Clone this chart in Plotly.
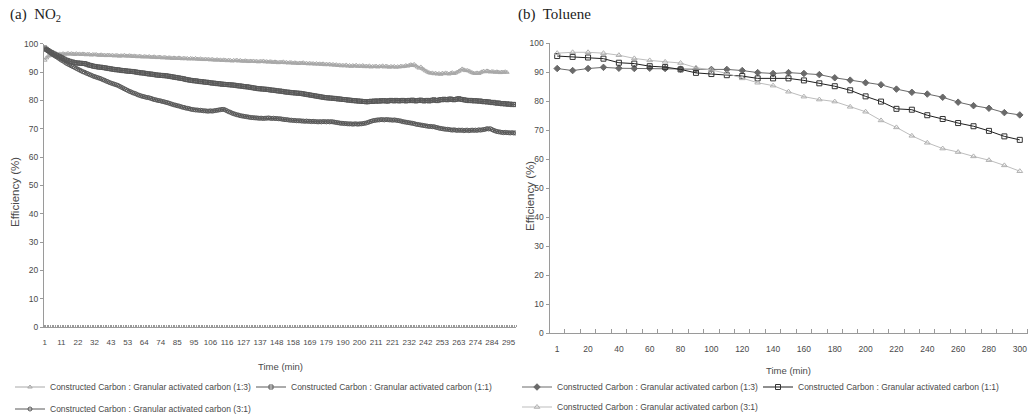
import plotly.graph_objects as go

# ---------------- data ----------------
series_names = [
    "Constructed Carbon : Granular activated carbon (1:3)",
    "Constructed Carbon : Granular activated carbon (1:1)",
    "Constructed Carbon : Granular activated carbon (3:1)",
]

# (a) NO2 : time-axis tick labels (every 10th sample)
no2_tick_labels = [1, 11, 22, 32, 43, 53, 64, 74, 85, 95, 106, 116, 127, 137, 148,
                   158, 169, 179, 190, 200, 211, 221, 232, 242, 253, 263, 274, 284, 295]
no2_label_every = 10

no2_1_3 = [
    94.2, 95.0, 95.6, 95.9, 96.1, 95.8, 96.2, 96.3, 96.1, 96.4,
    96.2, 96.5, 96.3, 96.4, 96.6, 96.3, 96.5, 96.4, 96.2, 96.5,
    96.3, 96.4, 96.2, 96.4, 96.3, 96.1, 96.3, 96.2, 96.0, 96.2,
    96.1, 96.2, 96.0, 95.9, 96.1, 95.9, 96.0, 95.8, 96.0, 95.9,
    95.8, 95.9, 95.7, 95.9, 95.8, 95.6, 95.8, 95.7, 95.9, 95.7,
    95.6, 95.8, 95.7, 95.5, 95.7, 95.6, 95.4, 95.6, 95.5, 95.3,
    95.5, 95.4, 95.3, 95.5, 95.3, 95.2, 95.4, 95.2, 95.1, 95.3,
    95.2, 95.0, 95.2, 95.1, 94.9, 95.1, 95.0, 94.8, 95.0, 94.9,
    94.8, 95.0, 94.8, 94.7, 94.9, 94.7, 94.8, 94.6, 94.8, 94.7,
    94.6, 94.8, 94.6, 94.5, 94.7, 94.5, 94.4, 94.6, 94.4, 94.5,
    94.3, 94.5, 94.3, 94.2, 94.4, 94.2, 94.3, 94.1, 94.3, 94.2,
    94.0, 94.2, 94.1, 93.9, 94.1, 94.0, 94.2, 93.9, 94.1, 93.9,
    93.8, 94.0, 93.9, 93.7, 93.9, 93.8, 93.9, 93.7, 93.8, 93.6,
    93.8, 93.7, 93.9, 93.6, 93.7, 93.5, 93.7, 93.6, 93.4, 93.6,
    93.5, 93.3, 93.5, 93.4, 93.6, 93.3, 93.4, 93.2, 93.4, 93.3,
    93.1, 93.3, 93.2, 93.0, 93.2, 93.1, 93.3, 93.0, 93.1, 92.9,
    93.1, 92.9, 93.0, 92.8, 93.0, 92.8, 92.9, 92.7, 92.9, 92.6,
    92.8, 92.6, 92.8, 92.5, 92.7, 92.4, 92.6, 92.3, 92.5, 92.2,
    92.4, 92.2, 92.5, 92.1, 92.3, 92.0, 92.3, 92.1, 92.4, 92.0,
    92.2, 92.0, 92.3, 91.9, 92.1, 91.9, 92.2, 91.8, 92.0, 91.9,
    92.1, 91.8, 92.0, 91.9, 92.2, 91.8, 92.1, 91.9, 91.7, 92.0,
    91.8, 92.0, 91.7, 91.9, 91.8, 92.1, 91.9, 92.0, 92.3, 92.1,
    92.4, 92.6, 92.3, 92.7, 92.2, 91.8, 91.4, 91.8, 91.2, 90.8,
    90.4, 90.1, 89.8, 89.6, 89.7, 89.4, 89.6, 89.3, 89.5, 89.2,
    89.6, 89.4, 89.7, 89.5, 89.3, 89.6, 89.8, 89.5, 89.7, 90.0,
    90.3, 90.7, 91.1, 90.8, 90.5, 90.6, 90.4, 90.1, 89.8, 89.6,
    89.5, 89.7, 89.5, 89.8, 90.1, 90.3, 90.1, 90.4, 90.2, 90.0,
    90.2, 90.1, 89.9, 90.1, 90.0, 89.8, 90.0, 89.9, 90.1, 89.9,
]

no2_1_1 = [
    98.5, 98.0, 97.6, 97.2, 96.9, 96.6, 96.3, 96.0, 95.7, 95.4,
    95.1, 94.8, 94.5, 94.2, 94.0, 93.8, 93.6, 93.5, 93.3, 93.2,
    93.2, 93.1, 93.1, 93.0, 93.0, 92.8, 92.6, 92.4, 92.3, 92.1,
    92.0, 91.9, 91.8, 91.7, 91.7, 91.6, 91.5, 91.4, 91.3, 91.2,
    91.1, 91.0, 90.9, 90.8, 90.8, 90.7, 90.6, 90.5, 90.5, 90.4,
    90.3, 90.3, 90.2, 90.2, 90.1, 90.0, 89.9, 89.8, 89.7, 89.7,
    89.6, 89.5, 89.4, 89.3, 89.3, 89.2, 89.1, 89.0, 88.9, 88.9,
    88.8, 88.8, 88.7, 88.7, 88.6, 88.5, 88.4, 88.3, 88.2, 88.1,
    88.0, 87.9, 87.8, 87.7, 87.6, 87.4, 87.3, 87.2, 87.1, 87.0,
    86.9, 86.9, 86.8, 86.7, 86.6, 86.6, 86.5, 86.4, 86.4, 86.3,
    86.2, 86.1, 86.1, 86.0, 85.9, 85.9, 85.8, 85.7, 85.7, 85.6,
    85.6, 85.5, 85.5, 85.4, 85.4, 85.3, 85.2, 85.1, 85.1, 85.0,
    84.9, 84.8, 84.8, 84.7, 84.6, 84.5, 84.4, 84.3, 84.2, 84.1,
    84.1, 84.0, 84.0, 83.9, 83.9, 83.8, 83.7, 83.6, 83.6, 83.5,
    83.4, 83.3, 83.3, 83.2, 83.1, 83.0, 82.9, 82.9, 82.8, 82.7,
    82.7, 82.6, 82.6, 82.5, 82.5, 82.4, 82.3, 82.2, 82.1, 82.0,
    81.9, 81.8, 81.7, 81.6, 81.5, 81.4, 81.3, 81.2, 81.1, 81.0,
    80.9, 80.9, 80.8, 80.8, 80.7, 80.7, 80.6, 80.5, 80.5, 80.4,
    80.3, 80.3, 80.2, 80.1, 80.1, 80.0, 79.9, 79.9, 79.8, 79.8,
    79.7, 79.7, 79.6, 79.6, 79.5, 79.5, 79.6, 79.7, 79.6, 79.8,
    79.7, 79.8, 79.7, 79.9, 79.8, 79.9, 79.8, 79.7, 79.9, 80.0,
    79.9, 79.8, 80.0, 79.9, 79.8, 79.9, 80.0, 79.9, 79.8, 79.9,
    80.0, 79.9, 80.1, 79.9, 79.8, 79.9, 80.0, 80.1, 79.9, 79.8,
    79.9, 80.0, 79.8, 79.9, 80.1, 80.2, 80.0, 79.9, 80.1, 80.3,
    80.2, 80.4, 80.3, 80.2, 80.4, 80.5, 80.3, 80.2, 80.3, 80.5,
    80.6, 80.4, 80.3, 80.2, 80.1, 80.0, 79.9, 80.0, 79.9, 79.8,
    79.9, 79.8, 79.7, 79.8, 79.6, 79.5, 79.6, 79.4, 79.5, 79.3,
    79.2, 79.3, 79.1, 79.0, 79.1, 78.9, 78.8, 78.9, 78.7, 78.8,
    78.6, 78.7, 78.5, 78.6, 78.5,
]

no2_3_1 = [
    98.2, 97.8, 97.4, 97.0, 96.5, 96.1, 95.7, 95.4, 95.0, 94.6,
    94.2, 93.9, 93.5, 93.1, 92.8, 92.5, 92.2, 91.9, 91.6, 91.3,
    91.0, 90.7, 90.4, 90.1, 89.9, 89.6, 89.4, 89.1, 88.9, 88.6,
    88.4, 88.2, 88.0, 87.8, 87.6, 87.3, 87.1, 86.8, 86.6, 86.3,
    86.1, 85.9, 85.7, 85.5, 85.3, 85.0, 84.7, 84.4, 84.1, 83.8,
    83.5, 83.2, 83.0, 82.7, 82.5, 82.3, 82.0, 81.8, 81.6, 81.4,
    81.3, 81.1, 81.0, 80.9, 80.7, 80.5, 80.3, 80.2, 80.0, 79.9,
    79.8, 79.6, 79.5, 79.3, 79.2, 79.0, 78.8, 78.6, 78.4, 78.3,
    78.1, 78.0, 77.8, 77.6, 77.5, 77.3, 77.2, 77.1, 76.9, 76.8,
    76.7, 76.6, 76.6, 76.5, 76.5, 76.4, 76.3, 76.3, 76.2, 76.2,
    76.3, 76.2, 76.3, 76.4, 76.5, 76.6, 76.7, 76.8, 76.8, 76.6,
    76.3, 76.0, 75.8, 75.5, 75.3, 75.1, 74.9, 74.8, 74.6, 74.5,
    74.4, 74.3, 74.2, 74.1, 74.0, 73.9, 73.9, 73.8, 73.8, 73.7,
    73.7, 73.7, 73.6, 73.7, 73.7, 73.8, 73.7, 73.6, 73.7, 73.6,
    73.6, 73.5, 73.5, 73.4, 73.3, 73.2, 73.2, 73.1, 73.0, 73.0,
    72.9, 72.9, 72.8, 72.8, 72.8, 72.7, 72.7, 72.6, 72.7, 72.6,
    72.6, 72.5, 72.6, 72.5, 72.5, 72.4, 72.5, 72.4, 72.5, 72.5,
    72.4, 72.5, 72.4, 72.5, 72.4, 72.3, 72.2, 72.1, 72.0, 71.9,
    71.9, 71.8, 71.8, 71.7, 71.7, 71.7, 71.6, 71.7, 71.7, 71.6,
    71.7, 71.7, 71.8, 71.9, 72.0, 72.2, 72.4, 72.6, 72.8, 72.9,
    73.0, 73.1, 73.1, 73.2, 73.2, 73.1, 73.2, 73.2, 73.1, 73.1,
    73.0, 73.1, 73.0, 72.9, 72.8, 72.7, 72.5, 72.4, 72.3, 72.2,
    72.1, 72.0, 71.9, 71.8, 71.6, 71.5, 71.4, 71.3, 71.2, 71.1,
    71.0, 70.9, 70.8, 70.8, 70.7, 70.7, 70.5, 70.4, 70.2, 70.1,
    70.0, 69.9, 69.8, 69.8, 69.7, 69.6, 69.5, 69.6, 69.5, 69.4,
    69.5, 69.4, 69.5, 69.3, 69.4, 69.5, 69.3, 69.4, 69.5, 69.4,
    69.5, 69.4, 69.6, 69.5, 69.6, 69.7, 69.8, 70.0, 69.9, 70.0,
    69.7, 69.4, 69.2, 69.0, 68.9, 68.8, 68.7, 68.6, 68.7, 68.6,
    68.6, 68.5, 68.6, 68.5, 68.5,
]

# (b) Toluene
tol_time = [1, 10, 20, 30, 40, 50, 60, 70, 80, 90, 100, 110, 120, 130, 140, 150,
            160, 170, 180, 190, 200, 210, 220, 230, 240, 250, 260, 270, 280, 290, 300]
tol_1_3 = [91.3, 90.6, 91.3, 91.7, 91.4, 91.3, 91.4, 91.3, 91.1, 91.0, 91.0, 91.0,
           90.6, 89.9, 89.6, 89.9, 89.6, 89.2, 88.1, 87.3, 86.4, 85.7, 84.2, 83.1,
           82.5, 81.4, 79.7, 78.5, 77.6, 76.1, 75.3]
tol_1_1 = [95.6, 95.3, 95.1, 94.7, 93.3, 93.0, 92.1, 91.8, 91.0, 89.8, 89.4, 89.0,
           88.7, 87.9, 87.9, 87.9, 87.2, 86.2, 85.2, 83.8, 81.7, 79.9, 77.4, 77.1,
           75.2, 73.9, 72.5, 71.4, 69.8, 67.9, 66.7]
tol_3_1 = [96.6, 96.9, 96.9, 96.6, 95.9, 94.8, 94.1, 93.6, 93.2, 91.6, 90.8, 89.6,
           87.9, 86.4, 85.4, 83.3, 81.6, 80.6, 79.9, 78.1, 76.4, 73.4, 71.0, 68.1,
           65.7, 63.7, 62.5, 61.0, 59.7, 57.9, 55.9]
tol_label_every = 2

# ---------------- styling ----------------
W, H = 1029, 419
SANS = "Liberation Sans, Arial, sans-serif"
SERIF = "Liberation Serif, DejaVu Serif, serif"
TXT = "#4a4a4a"
AXC = "#9a9a9a"


def px_x(p):
    return p / W


def px_y(p):
    return 1 - p / H


fig = go.Figure()

# ---- (a) NO2 traces
no2_styles = [
    (no2_1_3, "#a8a8a8", "triangle-up-open", "legend"),
    (no2_1_1, "#585858", "square-open", "legend"),
    (no2_3_1, "#585858", "circle-open", "legend2"),
]
for (vals, col, sym, leg), name in zip(no2_styles, series_names):
    fig.add_trace(go.Scatter(
        x=list(range(len(vals))), y=vals, name=name, mode="lines+markers",
        line=dict(color=col, width=1),
        marker=dict(symbol=sym, size=4, color=col, line=dict(width=1, color=col)),
        xaxis="x", yaxis="y", legend=leg,
    ))

# ---- (b) Toluene traces
tol_styles = [
    (tol_1_3, "#6a6a6a", "#6a6a6a", "diamond", "legend3"),
    (tol_1_1, "#1e1e1e", "#333333", "square-open", "legend3"),
    (tol_3_1, "#bdbdbd", "#b0b0b0", "triangle-up-open", "legend4"),
]
for (vals, lcol, mcol, sym, leg), name in zip(tol_styles, series_names):
    fig.add_trace(go.Scatter(
        x=list(range(len(tol_time))), y=vals, name=name, mode="lines+markers",
        line=dict(color=lcol, width=1),
        marker=dict(symbol=sym, size=5, color=mcol, line=dict(width=1, color=mcol)),
        xaxis="x2", yaxis="y2", legend=leg,
    ))

n_no2 = max(len(no2_1_3), len(no2_1_1), len(no2_3_1))
no2_tickvals = [i * no2_label_every for i in range(len(no2_tick_labels))]
tol_tickvals = list(range(0, len(tol_time), tol_label_every))
tol_ticktext = [str(tol_time[i]) for i in tol_tickvals]

common_x = dict(
    showline=True, linecolor=AXC, linewidth=1, showgrid=False, zeroline=False,
    tickmode="array", ticks="", tickangle=0,
)
common_y = dict(
    showline=True, linecolor=AXC, linewidth=1, showgrid=False, zeroline=False,
    range=[0, 100], tickmode="linear", tick0=0, dtick=10,
    ticks="outside", ticklen=3, tickcolor=AXC,
    tickfont=dict(family=SANS, size=8.5, color=TXT),
)

legfont = dict(family=SANS, size=8.5, color=TXT)
leg_common = dict(orientation="h", xanchor="left", yanchor="middle", font=legfont,
                  bgcolor="rgba(0,0,0,0)", itemwidth=30, borderwidth=0)

fig.update_layout(
    width=W, height=H,
    margin=dict(l=0, r=0, t=0, b=0, autoexpand=False),
    paper_bgcolor="white", plot_bgcolor="white",
    xaxis=dict(
        common_x, domain=[px_x(44), px_x(516)], anchor="y",
        range=[-0.5, n_no2 - 0.5],
        tickvals=no2_tickvals, ticktext=[str(v) for v in no2_tick_labels],
        tickfont=dict(family=SANS, size=8, color=TXT), ticklabelstandoff=7,
        minor=dict(tickmode="linear", tick0=-0.5, dtick=1, ticks="inside",
                   ticklen=2, tickcolor=AXC),
    ),
    yaxis=dict(common_y, domain=[px_y(327), px_y(43.7)], anchor="x"),
    xaxis2=dict(
        common_x, domain=[px_x(549.5), px_x(1027.5)], anchor="y2",
        range=[-0.5, len(tol_time) - 0.5],
        tickvals=tol_tickvals, ticktext=tol_ticktext,
        tickfont=dict(family=SANS, size=8.5, color=TXT), ticklabelstandoff=7,
        minor=dict(tickmode="linear", tick0=-0.5, dtick=1, ticks="inside",
                   ticklen=4, tickcolor=AXC),
    ),
    yaxis2=dict(common_y, domain=[px_y(333.3), px_y(43.3)], anchor="x2"),
    legend=dict(leg_common, x=px_x(10), y=px_y(387), entrywidth=196),
    legend2=dict(leg_common, x=px_x(10), y=px_y(409)),
    legend3=dict(leg_common, x=px_x(517), y=px_y(387), entrywidth=196),
    legend4=dict(leg_common, x=px_x(517), y=px_y(407)),
    annotations=[
        dict(text="(a)  NO<sub>2</sub>", x=px_x(8), y=px_y(15), xref="paper", yref="paper",
             xanchor="left", yanchor="middle", showarrow=False,
             font=dict(family=SERIF, size=15, color="#222222")),
        dict(text="(b)  Toluene", x=px_x(516), y=px_y(15), xref="paper", yref="paper",
             xanchor="left", yanchor="middle", showarrow=False,
             font=dict(family=SERIF, size=15, color="#222222")),
        # axis titles
        dict(text="Time (min)", x=px_x(280), y=px_y(366), xref="paper", yref="paper",
             xanchor="center", yanchor="middle", showarrow=False,
             font=dict(family=SANS, size=9.5, color=TXT)),
        dict(text="Time (min)", x=px_x(788), y=px_y(370), xref="paper", yref="paper",
             xanchor="center", yanchor="middle", showarrow=False,
             font=dict(family=SANS, size=9.5, color=TXT)),
        dict(text="Efficiency (%)", x=px_x(15), y=px_y(192), xref="paper", yref="paper",
             xanchor="center", yanchor="middle", showarrow=False, textangle=-90,
             font=dict(family=SANS, size=11.5, color=TXT)),
        dict(text="Efficiency (%)", x=px_x(530), y=px_y(196), xref="paper", yref="paper",
             xanchor="center", yanchor="middle", showarrow=False, textangle=-90,
             font=dict(family=SANS, size=11.5, color=TXT)),
    ],
)

fig.write_html("out.html", config={"displayModeBar": False},
               post_script="document.body.style.margin='0px';")
